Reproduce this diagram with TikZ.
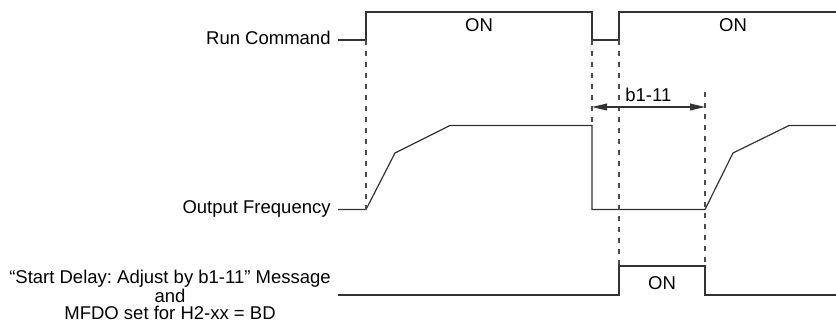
\documentclass[tikz,border=0pt]{standalone}
\usepackage{fontspec}
\setmainfont{Liberation Sans}
\frenchspacing
\usetikzlibrary{arrows.meta, positioning, calc}
\tikzset{
    signal/.style={draw=black!80, line width=0.6pt},
    guide/.style={draw=black!70, line width=0.7pt, dash pattern=on 2.6pt off 2.9pt},
    sigtext/.style={inner sep=0pt, font=\fontsize{9.25}{8.35}\selectfont}
}

\begin{document}
\begin{tikzpicture}[x=0.5pt, y=-0.5pt, >={Triangle[length=7.5pt,width=3.4pt]},
    signame/.style={sigtext, anchor=base east}]

    \useasboundingbox (0,0) rectangle (836,322);

    % signal names
    \node (run)  [signame] at (331,44.5)  {Run Command};
    \node (freq) [signame] at (331,213.5) {Output Frequency};
    \node (msg)  [sigtext, anchor=north, align=center] at (170,269.5)
        {``Start Delay: Adjust by b1-11'' Message\\and\\MFDO set for H2-xx = BD};

    % time marks
    \coordinate (tA) at (366,0);
    \coordinate (tB) at (592,0);
    \coordinate (tC) at (619,0);
    \coordinate (tD) at (705,0);

    % run command
    \draw [signal] (338,40) -- (tA |- 0,40) -- (tA |- 0,12) -- (tB |- 0,12)
        -- (tB |- 0,40) -- (tC |- 0,40) -- (tC |- 0,12) -- (836,12);
    \node (on1) [sigtext, anchor=base] at (479,31.7) {ON};
    \node (on2) [sigtext, anchor=base] at (733,31.7) {ON};

    % output frequency
    \draw [signal] (338,209.5) -- (tA |- 0,209.5) -- (395,153) -- (450,125.5)
        -- (tB |- 0,125.5) -- (tB |- 0,209.5) -- (tD |- 0,209.5) -- (733,153)
        -- (789,125.5) -- (836,125.5);

    % message / MFDO
    \draw [signal] (338,295) -- (tC |- 0,295) -- (tC |- 0,266) -- (tD |- 0,266)
        -- (tD |- 0,295) -- (836,295);
    \node (on3) [sigtext, anchor=base] at (662,289.3) {ON};

    % dashed guides
    \draw [guide] (tA |- 0,40) -- (tA |- 0,209.5);
    \draw [guide] (tB |- 0,40) -- (tB |- 0,125.5);
    \draw [guide] (tC |- 0,40) -- (tC |- 0,266);
    \draw [guide] (tD |- 0,92) -- (tD |- 0,266);

    % b1-11 delay
    \coordinate (dl) at (tB |- 0,107);
    \coordinate (dr) at (tD |- 0,107);
    \draw [signal, <->] (dl) -- (dr);
    \node (delay) [sigtext, anchor=base west] at (625,101) {b1-11};
\end{tikzpicture}
\end{document}
